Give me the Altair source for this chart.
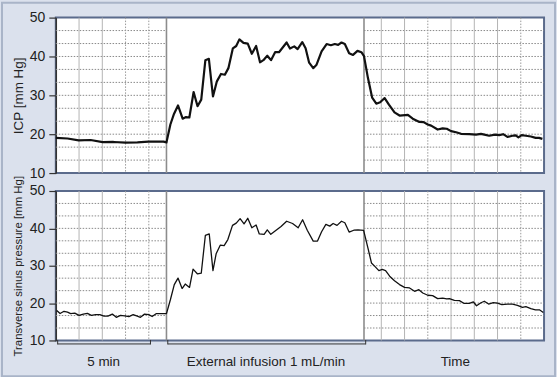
import altair as alt
import pandas as pd

# ---------------- data (time in minutes, pressure in mm Hg) ----------------
icp_t = [0.00, 0.63, 1.23, 1.87, 2.52, 3.11, 3.75, 4.39, 4.98, 5.79, 5.95, 6.16, 6.34, 6.57,
         6.82, 7.00, 7.18, 7.41, 7.62, 7.82, 8.04, 8.23, 8.45, 8.66, 8.88, 9.09, 9.28, 9.52,
         9.70, 9.87, 10.09, 10.32, 10.54, 10.77, 10.98, 11.16, 11.37, 11.57, 11.79, 12.00,
         12.20, 12.41, 12.59, 12.82, 13.00, 13.25, 13.43, 13.62, 13.84, 14.02, 14.29, 14.56,
         14.79, 15.00, 15.18, 15.36, 15.54, 15.77, 15.98, 16.22, 16.43, 16.57, 16.78, 17.01,
         17.23, 17.44, 17.68, 17.91, 18.21, 18.48, 18.93, 19.19, 19.55, 19.77, 20.00, 20.18,
         20.53, 20.80, 21.02, 21.25, 21.52, 21.79, 22.23, 22.59, 22.86, 23.04, 23.30, 23.61,
         23.84, 24.05, 24.28, 24.55, 24.73, 24.87, 25.05, 25.27, 25.54, 25.80, 25.98, 26.16]
icp_v = [19.05, 18.9, 18.4, 18.5, 17.95, 18.0, 17.85, 17.9, 18.1, 18.1, 17.9, 22.5, 25.05, 27.4,
         24.0, 24.4, 24.3, 30.85, 27.2, 28.9, 39.0, 39.4, 29.7, 33.6, 35.5, 35.3, 37.0, 42.1,
         42.7, 44.4, 43.5, 43.3, 40.7, 42.7, 38.5, 39.05, 40.2, 39.05, 41.1, 41.1,
         42.3, 43.6, 42.05, 42.6, 41.9, 43.7, 42.1, 38.4, 37.0, 37.9, 41.3, 43.2,
         42.9, 43.2, 43.0, 43.6, 43.2, 40.85, 40.4, 41.45, 41.1, 40.1, 34.5, 29.4,
         27.85, 28.2, 29.3, 27.6, 25.6, 24.8, 24.95, 24.0, 23.15, 23.1, 22.5, 22.2,
         21.2, 21.5, 21.4, 20.8, 20.5, 20.1, 20.0, 19.9, 20.1, 19.9, 19.6, 19.9,
         19.75, 20.0, 19.3, 19.6, 19.7, 19.2, 19.75, 19.6, 19.4, 19.05, 19.05, 18.8]

tsp_t = [0.05, 0.23, 0.44, 0.63, 0.80, 1.02, 1.25, 1.48, 1.70, 1.91, 2.14, 2.37, 2.59, 2.80,
         3.04, 3.25, 3.48, 3.70, 3.93, 4.16, 4.38, 4.55, 4.77, 5.00, 5.18, 5.41, 5.66, 5.95,
         6.16, 6.37, 6.57, 6.79, 6.96, 7.19, 7.38, 7.62, 7.82, 8.04, 8.25, 8.45, 8.62, 8.84,
         9.05, 9.25, 9.50, 9.70, 9.91, 10.12, 10.32, 10.54, 10.77, 10.94, 11.20, 11.37, 11.56,
         11.79, 12.11, 12.41, 12.73, 13.03, 13.27, 13.52, 13.84, 14.07, 14.29, 14.52, 14.73,
         14.91, 15.12, 15.36, 15.54, 15.77, 16.02, 16.25, 16.55, 16.78, 16.97, 17.14, 17.37,
         17.55, 17.73, 17.95, 18.21, 18.48, 18.75, 19.02, 19.29, 19.52, 19.73, 20.00, 20.26,
         20.53, 20.80, 21.02, 21.16, 21.43, 21.70, 21.96, 22.23, 22.45, 22.62, 22.86, 23.04,
         23.27, 23.52, 23.75, 23.98, 24.28, 24.55, 24.82, 25.09, 25.27, 25.54, 25.79, 26.00, 26.21]
tsp_v = [18.0, 17.2, 17.8, 17.6, 17.2, 17.3, 16.7, 17.05, 17.25, 16.7, 16.9, 16.9, 16.5, 16.5,
         17.05, 16.2, 16.7, 16.6, 16.4, 16.9, 16.5, 16.2, 17.05, 16.9, 16.4, 17.2, 17.2, 17.2,
         20.9, 24.95, 26.7, 23.9, 25.1, 24.2, 29.1, 27.8, 28.0, 38.1, 38.5, 28.7, 33.2, 35.5,
         35.4, 37.0, 40.8, 41.4, 42.6, 41.2, 42.7, 40.15, 40.9, 38.5, 38.4, 39.6, 38.4,
         39.3, 40.5, 41.9, 41.3, 40.15, 42.3, 39.5, 36.6, 36.6, 39.1, 41.05, 40.6,
         41.3, 40.8, 41.9, 41.5, 39.0, 39.5, 39.6, 39.45, 34.8, 30.75, 29.9, 28.7,
         29.0, 28.7, 27.2, 26.0, 24.95, 24.2, 24.05, 23.15, 23.6, 22.7, 22.1, 22.0,
         21.2, 21.35, 21.1, 21.2, 20.7, 20.65, 19.9, 19.9, 20.3, 19.3, 20.1, 20.5,
         19.75, 20.1, 20.0, 19.6, 19.7, 19.7, 19.4, 18.85, 19.05, 18.5, 18.2, 18.2, 17.5]

x_domain = [0, 26.25]
y_domain = [10, 50]
y_ticks = [10, 20, 30, 40, 50]
infusion = [5.95, 16.57]
grid_solid = [1.25, 2.5, 17.5, 18.75, 21.25, 22.5, 23.75]
grid_dotted = [3.75, 5.0, 20.0, 25.0]
h_grid_levels = [13.33, 16.67, 20, 23.33, 26.67, 30, 33.33, 36.67, 40, 43.33, 46.67]

bracket_start = [0.10, 6.02]
bracket_end = [5.09, 16.66]
label_text = ["5 min", "External infusion 1 mL/min", "Time"]
label_t = [2.57, 11.3, 21.48]

FONT = "Liberation Sans"
W = 490
H_TOP = 156
H_BOT = 150

xs = alt.Scale(domain=x_domain, nice=False, zero=False)
ysc = alt.Scale(domain=y_domain, nice=False, zero=False)

hgrid_rows = []
for lv in h_grid_levels:
    hgrid_rows.append({"a": x_domain[0], "b": infusion[0], "v": lv})
    hgrid_rows.append({"a": infusion[1], "b": x_domain[1], "v": lv})
hgrid_df = pd.DataFrame(hgrid_rows)
vsolid_df = pd.DataFrame({"t": grid_solid})
vdot_df = pd.DataFrame({"t": grid_dotted})
inf_df = pd.DataFrame({"t": infusion})


def panel(t, v, height, title, title_size, line_w):
    yenc = alt.Y("v:Q", scale=ysc,
                 axis=alt.Axis(values=y_ticks, title=title, grid=False,
                               titleFontSize=title_size, titleX=-37,
                               titleBaseline="middle"))
    hgrid = alt.Chart(hgrid_df).mark_rule(color="#8a8a8a", strokeWidth=1,
                                          strokeDash=[1.5, 1.5]).encode(
        x=alt.X("a:Q", scale=xs, axis=None), x2="b:Q", y=yenc)
    vsolid = alt.Chart(vsolid_df).mark_rule(color="#b4b4b4", strokeWidth=1).encode(
        x=alt.X("t:Q", scale=xs, axis=None), y=alt.value(0), y2=alt.value(height))
    vdot = alt.Chart(vdot_df).mark_rule(color="#9a9a9a", strokeWidth=1,
                                        strokeDash=[1.5, 1.5]).encode(
        x=alt.X("t:Q", scale=xs, axis=None), y=alt.value(0), y2=alt.value(height))
    inf = alt.Chart(inf_df).mark_rule(color="#8c8c8c", strokeWidth=1.6).encode(
        x=alt.X("t:Q", scale=xs, axis=None), y=alt.value(0), y2=alt.value(height))
    line = alt.Chart(pd.DataFrame({"t": t, "v": v})).mark_line(
        color="#111111", strokeWidth=line_w, strokeJoin="round").encode(
        x=alt.X("t:Q", scale=xs, axis=None), y=yenc)
    return [hgrid, vsolid, vdot, inf, line]


top_layers = panel(icp_t, icp_v, H_TOP, "ICP [mm Hg]", 13.5, 2.2)
frame = alt.Chart(pd.DataFrame({"k": [0]})).mark_rect(
    fill="transparent", stroke="#a9b4c8", strokeWidth=2).encode(
    x=alt.value(-54), x2=alt.value(501), y=alt.value(-15), y2=alt.value(360))
top = alt.layer(*top_layers, frame).properties(width=W, height=H_TOP)

bot_layers = panel(tsp_t, tsp_v, H_BOT, "Transverse sinus pressure [mm Hg]", 11.5, 1.3)
br_df = pd.DataFrame({"s": bracket_start, "e": bracket_end})
br_h = alt.Chart(br_df).mark_rule(color="#333333", strokeWidth=1).encode(
    x=alt.X("s:Q", scale=xs, axis=None), x2="e:Q", y=alt.value(153.5))
br_l = alt.Chart(br_df).mark_rule(color="#333333", strokeWidth=1).encode(
    x=alt.X("s:Q", scale=xs, axis=None), y=alt.value(149.5), y2=alt.value(154))
br_r = alt.Chart(br_df).mark_rule(color="#333333", strokeWidth=1).encode(
    x=alt.X("e:Q", scale=xs, axis=None), y=alt.value(149.5), y2=alt.value(154))
labels = alt.Chart(pd.DataFrame({"t": label_t, "txt": label_text})).mark_text(
    font=FONT, fontSize=13.5, color="#222222", baseline="middle", align="center").encode(
    x=alt.X("t:Q", scale=xs, axis=None), y=alt.value(172), text="txt:N")
bottom = alt.layer(*bot_layers, br_h, br_l, br_r, labels).properties(width=W, height=H_BOT)

chart = alt.vconcat(top, bottom, spacing=18, bounds="flush").configure(
    background="#dbe1ed", padding=0
).configure_view(
    stroke="#5b6b8c", strokeWidth=2, fill="white"
).configure_axis(
    domainColor="#333333", domainWidth=1.5, tickColor="#333333", tickSize=7,
    tickWidth=1.2, labelFont=FONT, labelFontSize=14, labelColor="#222222",
    labelPadding=4, titleFont=FONT, titleFontWeight="normal", titleColor="#222222"
)

chart.save("out.html", embed_options={"renderer": "svg", "actions": False})
